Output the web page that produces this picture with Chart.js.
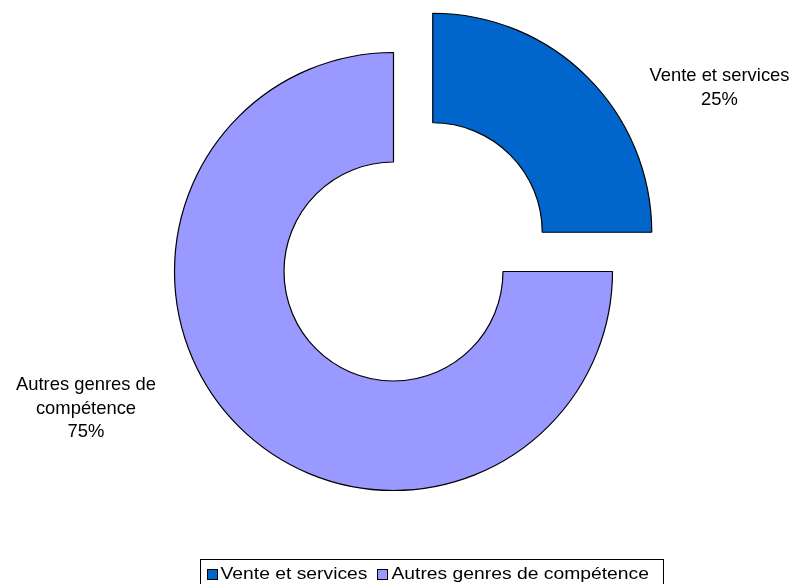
<!DOCTYPE html>
<html>
<head>
<meta charset="utf-8">
<script src="https://cdn.jsdelivr.net/npm/chart.js@4/dist/chart.umd.min.js"></script>
<style>
html,body{margin:0;padding:0;background:#fff;}
#wrap{width:796px;height:584px;position:relative;}
</style>
</head>
<body>
<div id="wrap"><canvas id="c" width="796" height="584"></canvas></div>
<script>
const categories = ["Vente et services", "Autres genres de compétence"];
const values = [25, 75];
const percentLabels = ["25%", "75%"];
const labelLines = [["Vente et services", "25%"], ["Autres genres de", "compétence", "75%"]];
const colors = ["#0066CC", "#9999FF"];

const FONT = "'Liberation Sans', Arial, sans-serif";

const outsideLabels = {
  id: 'outsideLabels',
  afterDatasetsDraw(chart) {
    const ctx = chart.ctx;
    const meta = chart.getDatasetMeta(0);
    const base = meta.data[1];
    const cx = base.x, cy = base.y;
    const anchors = [
      {x: cx + 326, y: cy - 190.5},
      {x: cx - 307.5, y: cy + 118.5}
    ];
    ctx.save();
    ctx.fillStyle = '#000';
    ctx.font = '18.4px ' + FONT;
    ctx.textAlign = 'center';
    ctx.textBaseline = 'alphabetic';
    labelLines.forEach((lines, i) => {
      lines.forEach((t, j) => {
        ctx.fillText(t, anchors[i].x, anchors[i].y + j * 23.5);
      });
    });
    ctx.restore();
  }
};

const boxLegend = {
  id: 'boxLegend',
  afterDraw(chart) {
    const ctx = chart.ctx;
    ctx.save();
    const fs = 16.5, sx = 19.3 / 16.5;
    ctx.font = fs + 'px ' + FONT;
    ctx.textBaseline = 'alphabetic';
    ctx.textAlign = 'left';
    const box = 10, gapBox = 4, gapItem = 10, padL = 6, padR = 15;
    let total = padL;
    const widths = categories.map(c => ctx.measureText(c).width * sx);
    widths.forEach((w, i) => { total += box + gapBox + w + (i < widths.length - 1 ? gapItem : 0); });
    total += padR;
    const left = 200.5;
    const top = 559.5;
    const h = 30;
    ctx.fillStyle = '#fff';
    ctx.strokeStyle = '#000';
    ctx.lineWidth = 1;
    ctx.fillRect(left, top, Math.round(total), h);
    ctx.strokeRect(left, top, Math.round(total), h);
    let x = left + padL;
    const baseline = 579;
    categories.forEach((c, i) => {
      ctx.fillStyle = colors[i];
      const bx = Math.round(x) + 0.5, by = 569.5;
      ctx.fillRect(bx, by, box, box);
      ctx.strokeRect(bx, by, box, box);
      x += box + gapBox;
      ctx.fillStyle = '#000';
      ctx.save();
      ctx.translate(x, baseline);
      ctx.scale(sx, 1);
      ctx.fillText(c, 0, 0);
      ctx.restore();
      x += widths[i] + gapItem;
    });
    ctx.restore();
  }
};

new Chart(document.getElementById('c'), {
  type: 'doughnut',
  data: {
    labels: categories,
    datasets: [{
      data: values,
      backgroundColor: colors,
      borderColor: '#000',
      borderWidth: 1.2,
      offset: [222, 0],
      hoverOffset: 0,
      radius: 219,
      cutout: '50%'
    }]
  },
  options: {
    responsive: false,
    animation: false,
    layout: {padding: {left: 0, right: 9, top: 0, bottom: 41}},
    plugins: {
      legend: {display: false},
      tooltip: {enabled: false}
    },
    events: []
  },
  plugins: [outsideLabels, boxLegend]
});
</script>
</body>
</html>
